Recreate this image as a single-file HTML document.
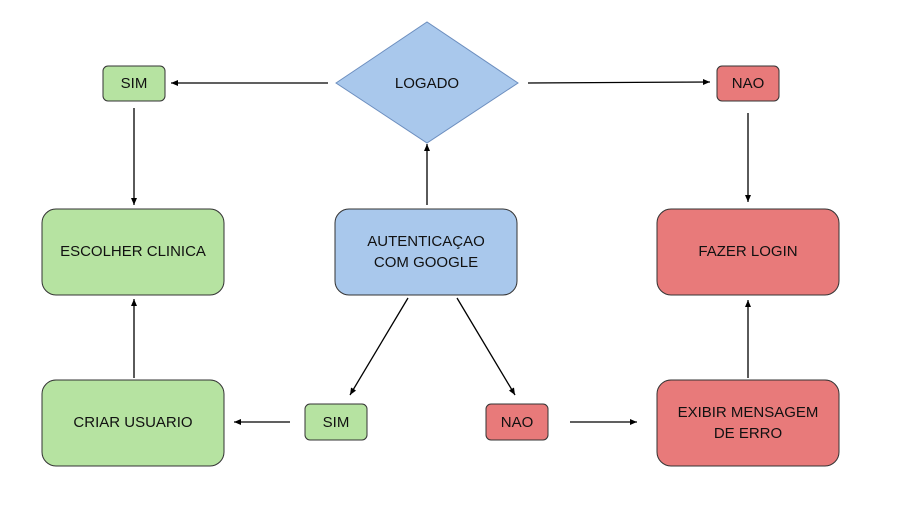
<!DOCTYPE html>
<html><head><meta charset="utf-8"><style>
html,body{margin:0;padding:0;background:#fff;}
svg{display:block;}
text{font-family:"Liberation Sans",sans-serif;font-size:15px;fill:#111;text-anchor:middle;}
</style></head><body>
<svg width="905" height="506" viewBox="0 0 905 506" xmlns="http://www.w3.org/2000/svg">
<defs><marker id="a" markerWidth="8" markerHeight="8" refX="7" refY="4" orient="auto" markerUnits="userSpaceOnUse"><path d="M0,1 L7,4 L0,7 Z" fill="#000"/></marker></defs>
<rect width="905" height="506" fill="#fff"/>
<polygon points="336,83 427,22 518,83 427,143" fill="#a9c8ec" stroke="#6c8ebf"/>
<text x="427" y="88">LOGADO</text>
<rect x="103" y="66" width="62" height="35" rx="5" fill="#b6e3a1" stroke="#333"/>
<text x="134" y="88">SIM</text>
<rect x="717" y="66" width="62" height="35" rx="5" fill="#e87a7a" stroke="#333"/>
<text x="748" y="88">NAO</text>
<rect x="42" y="209" width="182" height="86" rx="14" fill="#b6e3a1" stroke="#333"/>
<text x="133" y="256">ESCOLHER CLINICA</text>
<rect x="335" y="209" width="182" height="86" rx="14" fill="#a9c8ec" stroke="#333"/>
<text x="426" y="246">AUTENTICAÇAO</text>
<text x="426" y="267">COM GOOGLE</text>
<rect x="657" y="209" width="182" height="86" rx="14" fill="#e87a7a" stroke="#333"/>
<text x="748" y="256">FAZER LOGIN</text>
<rect x="42" y="380" width="182" height="86" rx="14" fill="#b6e3a1" stroke="#333"/>
<text x="133" y="427">CRIAR USUARIO</text>
<rect x="305" y="404" width="62" height="36" rx="5" fill="#b6e3a1" stroke="#333"/>
<text x="336" y="427">SIM</text>
<rect x="486" y="404" width="62" height="36" rx="5" fill="#e87a7a" stroke="#333"/>
<text x="517" y="427">NAO</text>
<rect x="657" y="380" width="182" height="86" rx="14" fill="#e87a7a" stroke="#333"/>
<text x="748" y="417">EXIBIR MENSAGEM</text>
<text x="748" y="438">DE ERRO</text>
<g stroke="#000" stroke-width="1.3" marker-end="url(#a)">
<line x1="328" y1="83" x2="171" y2="83"/>
<line x1="528" y1="83" x2="710" y2="82"/>
<line x1="134" y1="108" x2="134" y2="205"/>
<line x1="748" y1="113" x2="748" y2="202"/>
<line x1="427" y1="205" x2="427" y2="144"/>
<line x1="408" y1="298" x2="350" y2="395"/>
<line x1="457" y1="298" x2="515" y2="395"/>
<line x1="290" y1="422" x2="234" y2="422"/>
<line x1="570" y1="422" x2="637" y2="422"/>
<line x1="748" y1="378" x2="748" y2="300"/>
<line x1="134" y1="378" x2="134" y2="299"/>
</g>
</svg>
</body></html>
